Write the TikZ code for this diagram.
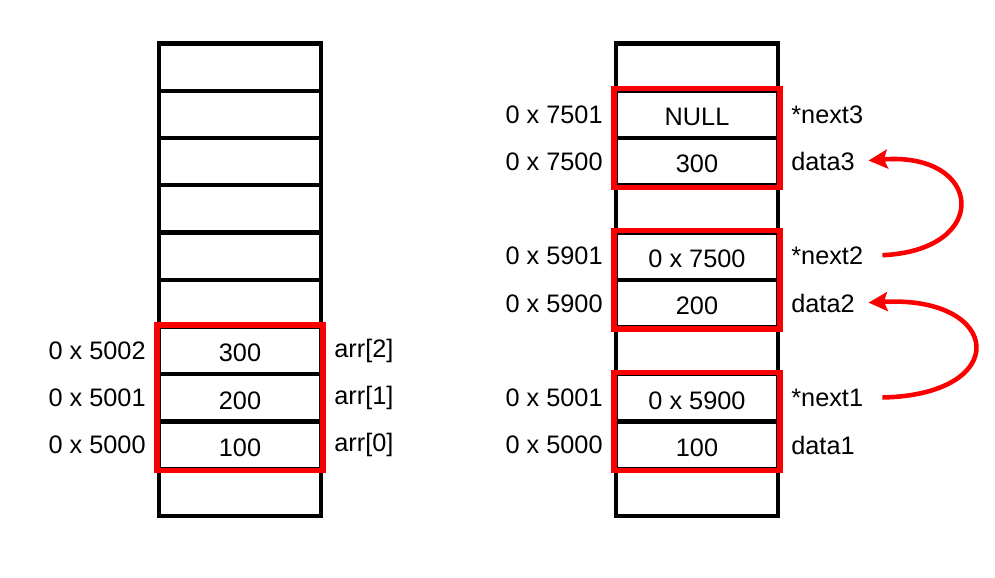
\documentclass[tikz,border=0pt]{standalone}
\usepackage{fontspec}
\setmainfont{Liberation Sans}
\usetikzlibrary{positioning,arrows.meta}
\definecolor{boxred}{RGB}{250,0,0}
\tikzset{
  cell/.style={draw=black, line width=2.3pt, minimum width=3.24cm, minimum height=0.945cm, inner sep=0pt, text height=0.46cm},
  lbl/.style={inner sep=0pt},
  redbox/.style={draw=boxred, line width=2.9pt},
  link/.style={draw=boxred, line width=2.6pt, -{Stealth[length=0.38cm,width=0.38cm,inset=0.07cm]}, shorten <=0.38cm, shorten >=0.27cm}
}
\begin{document}
\begin{tikzpicture}[x=0.02cm,y=-0.02cm,font=\fontsize{14.4}{17}\selectfont]
\useasboundingbox (0,0) rectangle (995,578);
\foreach \k/\a/\b in {0/{}/{},1/{}/NULL,2/{}/300,3/{}/{},4/{}/0 x 7500,5/{}/200,6/300/{},7/200/0 x 5900,8/100/100,9/{}/{}}{
  \node[cell] (l\k) at (240,{67.1+47.25*\k}) {\a};
  \node[cell] (r\k) at (697,{67.1+47.25*\k}) {\b};
}
\draw[redbox] (l6.north west) rectangle (l8.south east);
\draw[redbox] (r1.north west) rectangle (r2.south east);
\draw[redbox] (r4.north west) rectangle (r5.south east);
\draw[redbox] (r7.north west) rectangle (r8.south east);

\node[lbl, left=0.22cm of l6] (a5002) {0 x 5002};
\node[lbl, left=0.22cm of l7] (a5001) {0 x 5001};
\node[lbl, left=0.22cm of l8] (a5000) {0 x 5000};
\node[lbl, right=0.22cm of l6] (arr2) {arr[2]};
\node[lbl, right=0.22cm of l7] (arr1) {arr[1]};
\node[lbl, right=0.22cm of l8] (arr0) {arr[0]};

\node[lbl, left=0.22cm of r1] (b7501) {0 x 7501};
\node[lbl, left=0.22cm of r2] (b7500) {0 x 7500};
\node[lbl, left=0.22cm of r4] (b5901) {0 x 5901};
\node[lbl, left=0.22cm of r5] (b5900) {0 x 5900};
\node[lbl, left=0.22cm of r7] (b5001) {0 x 5001};
\node[lbl, left=0.22cm of r8] (b5000) {0 x 5000};
\node[lbl, right=0.22cm of r1] (next3) {*next3};
\node[lbl, right=0.22cm of r2] (data3) {data3};
\node[lbl, right=0.22cm of r4] (next2) {*next2};
\node[lbl, right=0.22cm of r5] (data2) {data2};
\node[lbl, right=0.22cm of r7] (next1) {*next1};
\node[lbl, right=0.22cm of r8] (data1) {data1};

\draw[link] (next2.east) .. controls +(129,-6) and +(128,-10) .. (data3.east);
\draw[link] (next1.east) .. controls +(149,-3) and +(148,-8) .. (data2.east);
\end{tikzpicture}
\end{document}
